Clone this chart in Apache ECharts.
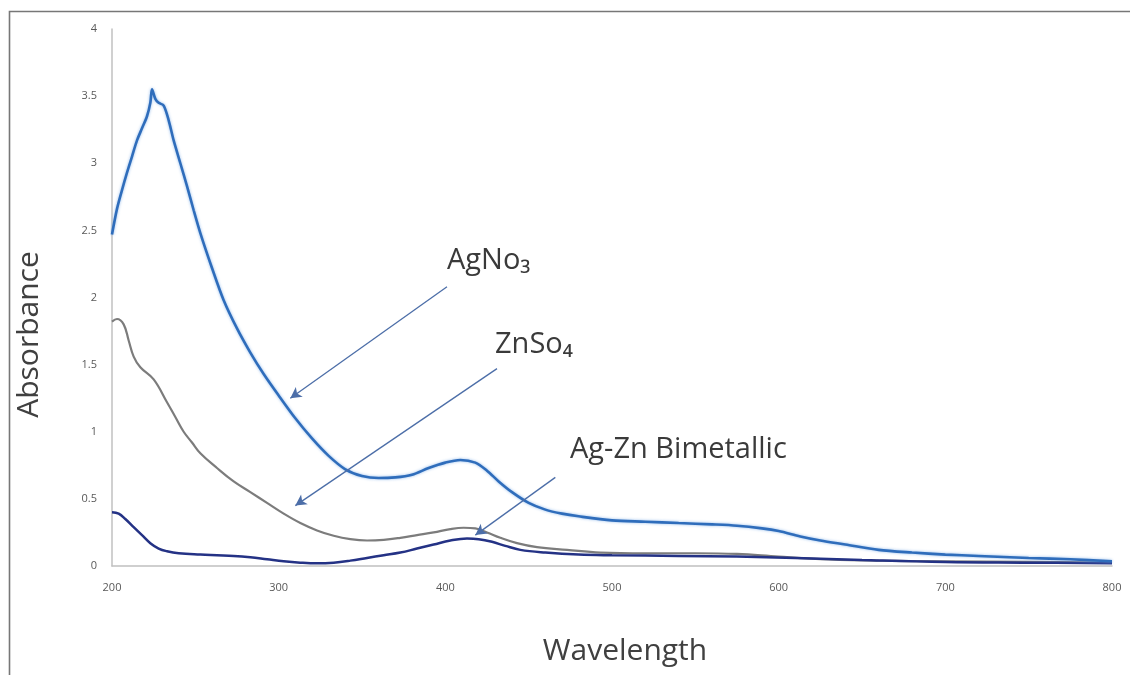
<!DOCTYPE html>
<html>
<head>
<meta charset="utf-8">
<script src="https://cdn.jsdelivr.net/npm/echarts@6/dist/echarts.min.js"></script>
<style>html,body{margin:0;padding:0;background:#fff}#c{width:1130px;height:675px}</style>
</head>
<body>
<div id="c"></div>
<script>
// ---- data ----
const xTicks = [200, 300, 400, 500, 600, 700, 800];
const yTicks = [0, 0.5, 1, 1.5, 2, 2.5, 3, 3.5, 4];

const agno3Wl  = [200,203,206,209,212,215,218,221,223,224,226,228,231,234,237,241,245,249,253,260,267,275,283,291,300,310,320,330,340,350,360,370,380,390,400,409,418,425,432,440,450,460,470,480,500,520,540,560,575,590,600,613,625,640,660,680,700,720,750,775,800];
const agno3Abs = [2.47,2.66,2.80,2.93,3.05,3.17,3.26,3.35,3.45,3.55,3.48,3.45,3.43,3.32,3.17,3.00,2.83,2.65,2.48,2.22,1.98,1.77,1.59,1.43,1.27,1.10,0.95,0.82,0.72,0.67,0.655,0.66,0.68,0.73,0.77,0.79,0.77,0.71,0.63,0.55,0.47,0.42,0.39,0.37,0.34,0.33,0.32,0.31,0.30,0.28,0.26,0.22,0.19,0.16,0.12,0.10,0.085,0.075,0.06,0.05,0.035];

const znso4Wl  = [200,203,207,210,213,217,225,233,238,243,248,253,263,273,283,293,303,313,323,333,343,353,363,373,383,393,403,411,418,425,433,443,455,473,493,520,550,575,600,630,660,700,750,800];
const znso4Abs = [1.82,1.84,1.80,1.68,1.56,1.48,1.39,1.22,1.11,1.00,0.92,0.84,0.73,0.63,0.55,0.47,0.39,0.32,0.265,0.225,0.20,0.19,0.195,0.21,0.23,0.25,0.275,0.285,0.28,0.25,0.21,0.17,0.14,0.12,0.10,0.095,0.095,0.09,0.07,0.05,0.04,0.035,0.03,0.025];

const agznWl  = [200,204,208,213,218,223,228,233,240,253,263,273,283,293,303,313,323,333,343,353,363,373,383,393,403,413,420,428,436,445,460,480,500,540,575,610,650,700,750,800];
const agznAbs = [0.40,0.39,0.35,0.29,0.23,0.17,0.13,0.11,0.095,0.085,0.08,0.075,0.065,0.05,0.035,0.025,0.02,0.025,0.04,0.06,0.08,0.10,0.13,0.16,0.19,0.205,0.20,0.18,0.15,0.12,0.10,0.085,0.08,0.075,0.07,0.06,0.045,0.03,0.025,0.02];

// annotation arrows: [start wavelength, start absorbance, end wavelength, end absorbance]
const arrowAgNO3 = [401, 2.08, 307, 1.25];
const arrowZnSO4 = [431, 1.47, 310, 0.45];
const arrowAgZn  = [466, 0.66, 418, 0.23];

const zip = (a, b) => a.map((v, i) => [v, b[i]]);
const arrow = (a) => [{coord: [a[0], a[1]]}, {coord: [a[2], a[3]]}];

const FONT = '"Open Sans", "DejaVu Sans", sans-serif';
const chart = echarts.init(document.getElementById('c'), null, {renderer: 'canvas'});
chart.setOption({
  animation: false,
  backgroundColor: '#ffffff',
  grid: {left: 112, right: 18, top: 29, bottom: 109},
  xAxis: {
    type: 'value', min: xTicks[0], max: xTicks[xTicks.length - 1], interval: 100,
    name: 'Wavelength', nameLocation: 'middle', nameGap: 70,
    nameTextStyle: {fontFamily: FONT, fontSize: 30, color: '#404040', padding: [0, 0, 0, 26]},
    axisLine: {lineStyle: {color: '#c0c0c0', width: 1.5}},
    axisTick: {show: false},
    splitLine: {show: false},
    axisLabel: {fontFamily: FONT, fontSize: 11, color: '#595959', margin: 16}
  },
  yAxis: {
    type: 'value', min: yTicks[0], max: yTicks[yTicks.length - 1], interval: 0.5,
    name: 'Absorbance', nameLocation: 'middle', nameGap: 68,
    nameTextStyle: {fontFamily: FONT, fontSize: 30, color: '#404040', padding: [0, 74, 0, 0]},
    axisLine: {show: true, lineStyle: {color: '#c0c0c0', width: 1.5}},
    axisTick: {show: false},
    splitLine: {show: false},
    axisLabel: {fontFamily: FONT, fontSize: 11, color: '#595959', margin: 15}
  },
  series: [
    {
      name: 'ZnSO4', type: 'line', data: zip(znso4Wl, znso4Abs), smooth: 0.4, showSymbol: false,
      lineStyle: {color: '#7c7c7c', width: 2.2}, z: 2
    },
    {
      name: 'Ag-Zn Bimetallic', type: 'line', data: zip(agznWl, agznAbs), smooth: 0.4, showSymbol: false,
      lineStyle: {color: '#243285', width: 2.5}, z: 3
    },
    {
      name: 'AgNO3', type: 'line', data: zip(agno3Wl, agno3Abs), smooth: 0.3, showSymbol: false,
      lineStyle: {color: '#2f6dbb', width: 2.6, shadowColor: 'rgba(120,170,230,0.8)', shadowBlur: 3}, z: 4,
      markLine: {
        silent: true, symbol: ['none', 'arrow'], symbolSize: [9, 11],
        label: {show: false},
        lineStyle: {color: '#4c6ea8', width: 1.3, type: 'solid'},
        data: [arrow(arrowAgNO3), arrow(arrowZnSO4), arrow(arrowAgZn)]
      }
    }
  ],
  graphic: [
    {type: 'rect', silent: true, shape: {x: 9.5, y: 11.5, width: 1300, height: 900},
     style: {fill: 'none', stroke: '#777777', lineWidth: 1.6}},
    {type: 'text', x: 447, y: 261, style: {text: 'AgNo₃', fontFamily: FONT, fontSize: 29, fill: '#3a3a3a', verticalAlign: 'middle'}},
    {type: 'text', x: 495, y: 345, style: {text: 'ZnSo₄', fontFamily: FONT, fontSize: 29, fill: '#3a3a3a', verticalAlign: 'middle'}},
    {type: 'text', x: 570, y: 450, style: {text: 'Ag-Zn Bimetallic', fontFamily: FONT, fontSize: 29, fill: '#3a3a3a', verticalAlign: 'middle'}}
  ]
});
</script>
</body>
</html>
